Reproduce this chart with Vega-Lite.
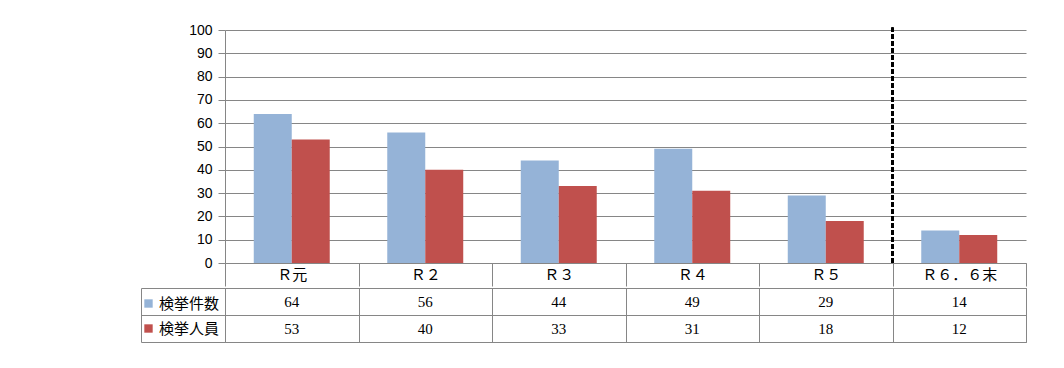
{
  "$schema": "https://vega.github.io/schema/vega-lite/v6.json",
  "padding": {"left": 140, "top": 23, "right": 5, "bottom": 5},
  "background": "white",
  "config": {
    "view": {"stroke": null},
    "concat": {"spacing": 0},
    "axis": {"domainColor": "#868686", "tickColor": "#868686", "gridColor": "#868686", "labelColor": "black"}
  },
  "data": {"values": [
    {"year": "Ｒ元", "series": "検挙件数", "value": 64},
    {"year": "Ｒ２", "series": "検挙件数", "value": 56},
    {"year": "Ｒ３", "series": "検挙件数", "value": 44},
    {"year": "Ｒ４", "series": "検挙件数", "value": 49},
    {"year": "Ｒ５", "series": "検挙件数", "value": 29},
    {"year": "Ｒ６．６末", "series": "検挙件数", "value": 14},
    {"year": "Ｒ元", "series": "検挙人員", "value": 53},
    {"year": "Ｒ２", "series": "検挙人員", "value": 40},
    {"year": "Ｒ３", "series": "検挙人員", "value": 33},
    {"year": "Ｒ４", "series": "検挙人員", "value": 31},
    {"year": "Ｒ５", "series": "検挙人員", "value": 18},
    {"year": "Ｒ６．６末", "series": "検挙人員", "value": 12}
  ]},
  "vconcat": [
    {
      "width": 801,
      "height": 233,
      "layer": [
        {
          "mark": {"type": "bar"},
          "encoding": {
            "x": {
              "field": "year", "type": "nominal", "sort": null,
              "scale": {"paddingInner": 0, "paddingOuter": 0},
              "axis": {"title": null, "tickBand": "extent", "tickSize": 23, "labelPadding": -19, "labelAngle": 0,
                       "labelFont": "Liberation Serif, Noto Sans CJK JP", "labelFontSize": 15, "grid": false}
            },
            "xOffset": {"field": "series", "sort": ["検挙件数", "検挙人員"], "scale": {"paddingInner": 0, "paddingOuter": 0.757}},
            "y": {
              "field": "value", "type": "quantitative",
              "scale": {"domain": [0, 100], "nice": false},
              "axis": {"title": null, "values": [0, 10, 20, 30, 40, 50, 60, 70, 80, 90, 100], "labelOverlap": false,
                       "tickSize": 7, "labelPadding": 6, "labelFont": "Liberation Sans", "labelFontSize": 14, "grid": true}
            },
            "color": {
              "field": "series", "type": "nominal",
              "scale": {"domain": ["検挙件数", "検挙人員"], "range": ["#95B3D7", "#C0504D"]},
              "legend": {"title": null, "orient": "none", "legendX": -84, "legendY": 266, "symbolType": "square", "symbolSize": 70,
                         "symbolStrokeWidth": 0, "labelFont": "Noto Sans CJK JP", "labelFontSize": 15, "labelColor": "black", "rowPadding": 9, "labelOffset": 3}
            }
          }
        },
        {
          "mark": {"type": "rule", "strokeDash": [5, 2], "strokeWidth": 2, "color": "black"},
          "encoding": {
            "x": {"datum": "Ｒ６．６末", "bandPosition": 0},
            "y": {"datum": 0, "type": "quantitative",
                  "axis": {"title": null, "values": [0, 10, 20, 30, 40, 50, 60, 70, 80, 90, 100], "labelOverlap": false,
                           "tickSize": 7, "labelPadding": 6, "labelFont": "Liberation Sans", "labelFontSize": 14, "grid": true}},
            "y2": {"datum": 101}
          }
        }
      ]
    },
    {
      "width": 801,
      "height": 54,
      "view": {"stroke": "#868686"},
      "mark": {"type": "text", "font": "Liberation Serif", "fontSize": 15, "color": "black"},
      "encoding": {
        "x": {
          "field": "year", "type": "nominal", "sort": null,
          "scale": {"paddingInner": 0, "paddingOuter": 0},
          "axis": {"title": null, "grid": true, "tickBand": "extent", "labels": false, "ticks": false, "domain": false}
        },
        "y": {
          "field": "series", "type": "nominal", "sort": ["検挙件数", "検挙人員"],
          "scale": {"paddingInner": 0, "paddingOuter": 0},
          "axis": {"title": null, "grid": true, "tickBand": "extent", "labels": false, "domain": true, "offset": 84, "tickSize": -84}
        },
        "text": {"field": "value", "type": "quantitative"}
      }
    }
  ]
}
